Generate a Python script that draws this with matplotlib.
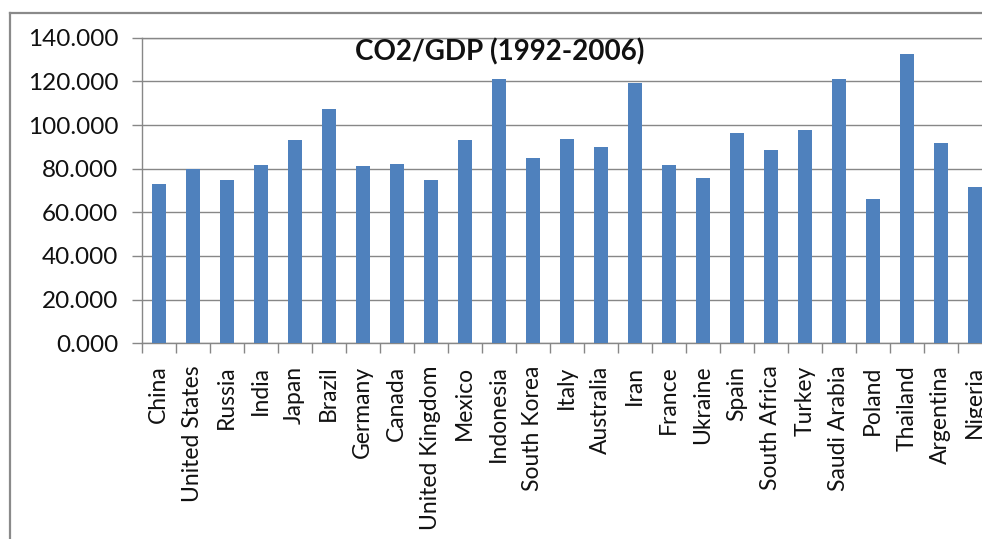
import matplotlib
matplotlib.use("Agg")
import matplotlib.pyplot as plt
from matplotlib.lines import Line2D
from matplotlib.ticker import FixedLocator, FuncFormatter
import numpy as np

countries = ["China", "United States", "Russia", "India", "Japan", "Brazil",
             "Germany", "Canada", "United Kingdom", "Mexico", "Indonesia",
             "South Korea", "Italy", "Australia", "Iran", "France", "Ukraine",
             "Spain", "South Africa", "Turkey", "Saudi Arabia", "Poland",
             "Thailand", "Argentina", "Nigeria"]
co2_per_gdp = [73.0, 79.8, 74.7, 81.7, 93.0, 107.2, 81.2, 82.1, 74.7, 93.0,
               121.2, 84.7, 93.6, 89.8, 119.1, 81.5, 75.6, 96.2, 88.5, 97.9,
               121.2, 66.2, 132.7, 91.9, 71.7]
y_ticks = [0, 20, 40, 60, 80, 100, 120, 140]
title = "CO2/GDP (1992-2006)"

W, H = 982, 539
fig = plt.figure(figsize=(W / 100, H / 100), dpi=100)
fig.patch.set_facecolor("white")

font = ["Lato", "DejaVu Sans"]
grey = "#878787"
bar_color = "#4F81BD"

# plot area (extends past the right edge of the canvas)
left, right = 141.7, 141.7 + 34 * len(countries)
top, bottom = 37.7, 343.3
ax = fig.add_axes([left / W, 1 - bottom / H, (right - left) / W, (bottom - top) / H])

x = np.arange(len(countries))
ax.bar(x, co2_per_gdp, width=0.41, color=bar_color, zorder=3)

ax.set_xlim(-0.5, len(countries) - 0.5)
ax.set_ylim(0, 140)

ax.yaxis.set_major_locator(FixedLocator(y_ticks))
ax.yaxis.set_major_formatter(FuncFormatter(lambda v, p: f"{v:.3f}"))
ax.grid(axis="y", color=grey, linewidth=1.0, zorder=0)

# tick marks between categories, labels centred under each bar
ax.xaxis.set_major_locator(FixedLocator(np.arange(len(countries) + 1) - 0.5))
ax.xaxis.set_major_formatter(FuncFormatter(lambda v, p: ""))
ax.xaxis.set_minor_locator(FixedLocator(x))
ax.set_xticklabels(countries, minor=True, rotation=90, fontsize=16.5,
                   family=font, color="#111111")
ax.tick_params(axis="x", which="major", length=7, width=1, color=grey, direction="out")
ax.tick_params(axis="x", which="minor", length=0, pad=16)
ax.tick_params(axis="y", length=7, width=1, color=grey, direction="out", pad=10,
               labelsize=17.5, labelcolor="#111111")
for lab in ax.get_yticklabels():
    lab.set_family(font)

ax.spines["right"].set_visible(False)
for side in ("left", "bottom", "top"):
    ax.spines[side].set_color(grey)
    ax.spines[side].set_linewidth(1.0)

fig.text(500 / W, 1 - 52 / H, title, ha="center", va="center",
         fontsize=20, fontweight="bold", family=font, color="#111111")

# chart frame
fig.add_artist(Line2D([9.5 / W, 9.5 / W], [1 - 12.5 / H, -0.1],
                      transform=fig.transFigure, color="#8a8a8a", linewidth=1.6))
fig.add_artist(Line2D([9.5 / W, 1.1], [1 - 12.5 / H, 1 - 12.5 / H],
                      transform=fig.transFigure, color="#8a8a8a", linewidth=1.6))

fig.savefig("out.png", dpi=100)
